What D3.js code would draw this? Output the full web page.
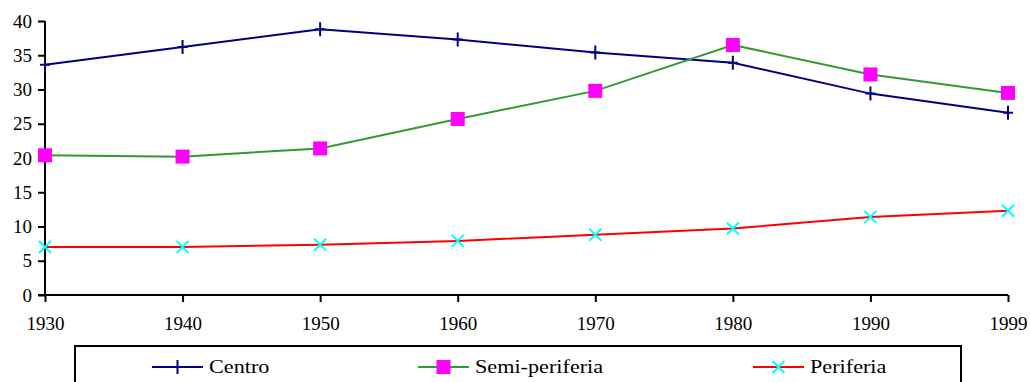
<!DOCTYPE html>
<html>
<head>
<meta charset="utf-8">
<script src="https://cdn.jsdelivr.net/npm/d3@7"></script>
<style>
  html, body { margin: 0; padding: 0; background: #fff; }
  svg { display: block; }
  text { font-family: "Liberation Serif", "Times New Roman", serif; font-size: 19px; fill: #000; }
</style>
</head>
<body>
<svg id="chart" width="1030" height="382"></svg>
<script>
// Years on the horizontal axis
const years = ["1930", "1940", "1950", "1960", "1970", "1980", "1990", "1999"];

// Share per zone (%)
const centro = [33.6, 36.2, 38.8, 37.3, 35.4, 33.9, 29.4, 26.6];
const semiPeriferia = [20.4, 20.2, 21.4, 25.7, 29.8, 36.5, 32.2, 29.5];
const periferia = [7.0, 7.0, 7.35, 7.9, 8.8, 9.7, 11.4, 12.3];

const yTicks = [0, 5, 10, 15, 20, 25, 30, 35, 40];

const seriesNames = ["Centro", "Semi-periferia", "Periferia"];

const series = [
  { name: seriesNames[0], values: centro, line: "#000080", marker: "plus", mcolor: "#000080" },
  { name: seriesNames[1], values: semiPeriferia, line: "#339933", marker: "square", mcolor: "#ff00ff" },
  { name: seriesNames[2], values: periferia, line: "#ff0000", marker: "cross", mcolor: "#00ffff" }
];

const svg = d3.select("#chart");
const plotL = 45, plotR = 1008, plotT = 21, plotB = 295;

const x = d3.scalePoint().domain(years).range([plotL, plotR]);
const y = d3.scaleLinear().domain([0, 40]).range([plotB, plotT]);

function styleText(sel) {
  sel.attr("font-family", null).attr("font-size", null)
    .style("font-family", "'Liberation Serif', 'Times New Roman', serif").style("font-size", "19px");
}

// Axes
const yAxis = d3.axisLeft(y).tickValues(yTicks).tickSize(7).tickPadding(6).tickFormat(d3.format("d"));
const gy = svg.append("g").attr("transform", `translate(${plotL},0)`).call(yAxis);
gy.attr("font-family", null).attr("font-size", null);
gy.select(".domain").attr("stroke", "#000").attr("stroke-width", 2).attr("d", `M0,${plotT}V${plotB}`);
gy.selectAll(".tick line").attr("stroke", "#000").attr("stroke-width", 2);
styleText(gy.selectAll("text"));

const xAxis = d3.axisBottom(x).tickSize(7).tickPadding(15);
const gx = svg.append("g").attr("transform", `translate(0,${plotB})`).call(xAxis);
gx.attr("font-family", null).attr("font-size", null);
gx.select(".domain").attr("stroke", "#000").attr("stroke-width", 2).attr("d", `M${plotL - 7},0H${plotR}`);
gx.selectAll(".tick line").attr("stroke", "#000").attr("stroke-width", 2);
styleText(gx.selectAll("text"));

// Marker shapes
function drawMarker(g, type, color, cx, cy) {
  if (type === "plus") {
    g.append("path").attr("d", `M${cx},${cy - 7}V${cy + 7}M${cx - 5},${cy}H${cx + 5}`)
      .attr("stroke", color).attr("stroke-width", 2).attr("fill", "none");
  } else if (type === "square") {
    g.append("rect").attr("x", cx - 7).attr("y", cy - 7).attr("width", 14).attr("height", 14).attr("fill", color);
  } else {
    g.append("path").attr("d", `M${cx - 6},${cy - 6}L${cx + 6},${cy + 6}M${cx - 6},${cy + 6}L${cx + 6},${cy - 6}`)
      .attr("stroke", color).attr("stroke-width", 2).attr("fill", "none");
  }
}

const line = d3.line().x((d, i) => x(years[i])).y(d => y(d));

series.forEach(s => {
  const g = svg.append("g");
  g.append("path").datum(s.values).attr("d", line)
    .attr("fill", "none").attr("stroke", s.line).attr("stroke-width", 2);
  s.values.forEach((v, i) => drawMarker(g, s.marker, s.mcolor, x(years[i]), y(v)));
});

// Legend (box runs past the bottom edge)
const lg = svg.append("g");
lg.append("rect").attr("x", 75).attr("y", 346).attr("width", 886).attr("height", 60)
  .attr("fill", "#fff").attr("stroke", "#000").attr("stroke-width", 2);
const legendX = [152, 418, 753];
series.forEach((s, i) => {
  const lx = legendX[i], ly = 367;
  lg.append("line").attr("x1", lx).attr("x2", lx + 51).attr("y1", ly).attr("y2", ly)
    .attr("stroke", s.line).attr("stroke-width", 2);
  drawMarker(lg, s.marker, s.mcolor, lx + 25.5, ly);
  lg.append("text")
    .attr("transform", `translate(${lx + 57},${ly + 6}) scale(1.2,1)`)
    .style("font-size", "18.5px")
    .text(s.name);
});
</script>
</body>
</html>
